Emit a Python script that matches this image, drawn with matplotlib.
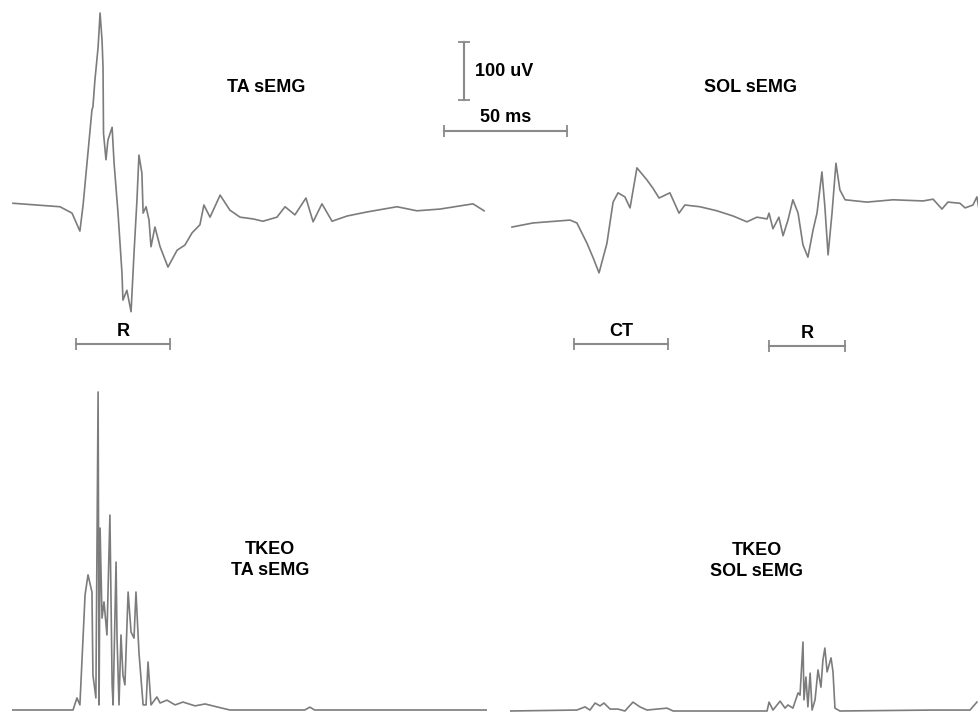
#!/usr/bin/env python
"""
Surface EMG responses (TA and SOL) and their TKEO envelopes.
"""
import numpy as np
import matplotlib.pyplot as plt

plt.rcParams['font.family'] = ['Liberation Sans', 'DejaVu Sans']

# Raw sEMG traces, time in ms, amplitude in uV
ta_t = [0.4, 19.5, 24.4, 27.6, 28.9, 32.5, 32.9, 33.7, 35.0, 35.8, 36.6, 37.0,
        37.2, 38.2, 39.0, 40.7, 41.5, 43.1, 44.7, 45.1, 46.7, 48.4, 49.6, 50.8,
        51.6, 52.8, 53.3, 54.5, 55.7, 56.5, 58.1, 60.2, 63.4, 67.1, 70.3, 73.2,
        76.4, 78.0, 80.5, 84.6, 88.6, 92.7, 98.0, 102.0, 107.7, 111.0, 115.0,
        119.5, 122.4, 126.0, 130.1, 136.2, 144.3, 156.5, 164.6, 174.0, 187.4,
        191.9]
ta_v = [3, -3, -14, -45, 0, 164, 169, 215, 272, 331, 284, 238,
        124, 78, 112, 134, 72, -14, -117, -164, -147, -184, -83, 9,
        86, 55, -14, -3, -26, -72, -38, -72, -107, -78, -69, -48,
        -34, 0, -21, 17, -9, -21, -24, -28, -21, -3, -17,
        12, -29, 2, -28, -19, -12, -3, -10, -7, 2,
        -10]

sol_t = [0.8, 9.3, 24.4, 27.2, 31.3, 33.7, 36.2, 39.4, 41.9, 43.9, 46.7, 48.8,
         51.6, 55.7, 58.1, 60.6, 65.0, 68.7, 71.1, 77.2, 84.1, 90.7, 96.3,
         100.4, 104.5, 105.3, 106.9, 109.3, 111.0, 113.0, 115.0, 117.1, 119.1,
         121.1, 123.2, 124.8, 126.8, 128.0, 129.3, 130.9, 132.5, 134.1, 136.2,
         145.1, 155.7, 167.9, 172.0, 175.6, 178.0, 182.9, 185.0, 188.2, 189.8,
         190.7]
sol_v = [-38, -31, -26, -31, -66, -90, -117, -66, 5, 21, 14, -5,
         64, 43, 29, 12, 21, -14, 0, -3, -10, -19, -29,
         -21, -24, -14, -41, -21, -53, -26, 9, -14, -69,
         -90, -43, -14, 57, -3, -86, -14, 72, 26, 9,
         5, 9, 7, 10, -7, 5, 3, -5, 0, 14,
         -9]

# TKEO envelopes, normalised to the largest TA value (%)
tkeo_ta_t = [0, 24.8, 26.4, 27.6, 29.7, 30.9, 32.5, 32.9, 34.1, 35.0, 35.4, 35.8,
             36.6, 37.4, 38.6, 39.8, 40.7, 41.1, 42.3, 42.7, 43.5, 44.3, 45.1,
             45.9, 47.2, 48.4, 49.6, 50.4, 51.6, 53.3, 54.5, 55.3, 56.5, 58.9,
             60.2, 63.0, 66.3, 69.5, 74.4, 78.5, 83.7, 88.6, 119.0, 121.1,
             123.0, 193.0]
tkeo_ta_v = [0, 0, 3.8, 1.6, 36.2, 42.5, 37.1, 11, 3.8, 100, 1.6, 57.2,
             28.9, 34, 23.6, 61.3, 7.9, 1.6, 46.5, 22.6, 1.6, 23.6, 11,
             7.9, 37.1, 24.5, 22.6, 37.1, 18.2, 1.6, 1.6, 15.1, 1.6, 4.1,
             2.2, 3.1, 1.6, 2.5, 1.3, 1.9, 0.9, 0, 0, 0.9,
             0, 0]

tkeo_sol_t = [0, 27.2, 30.5, 32.5, 34.6, 36.6, 38.2, 40.7, 43.9, 46.7, 50.0,
              52.8, 55.7, 63.8, 66.3, 104.5, 105.3, 106.9, 109.8, 111.8, 113.0,
              115.0, 117.1, 117.9, 119.1, 119.5, 120.3, 121.1, 122.0, 122.8,
              124.0, 125.2, 126.4, 127.2, 128.0, 128.9, 130.5, 131.3, 132.1,
              134.1, 172.0, 187.0, 189.8]
tkeo_sol_v = [0, 0.3, 1.3, 0.3, 2.5, 1.6, 2.5, 0.6, 0.6, 0, 2.8,
              1.3, 0.3, 0.9, 0, 0, 2.8, 0.3, 3.1, 0.9, 1.9,
              0.9, 5.7, 5.0, 21.7, 3.5, 10.7, 1.3, 11.9, 0.3,
              3.5, 12.9, 7.5, 16.0, 19.8, 12.3, 16.7, 12.3, 0.9,
              0, 0.3, 0.3, 2.8]

# Response windows (ms) marked under the raw traces
ta_windows = {'R': (26.0, 64.2)}
sol_windows = {'CT': (26.0, 64.2), 'R': (105.3, 136.2)}

# Calibration bars
scale_uv = 100
scale_ms = 50

trace_color = '#7c7c7c'
bar_color = '#8a8a8a'
fs = 13

W, H = 979, 713
fig = plt.figure(figsize=(W / 100, H / 100), dpi=100)


def add_axes(x0, x1, y0, y1):
    # panel placed by its pixel box in the figure
    ax = fig.add_axes([x0 / W, 1 - y1 / H, (x1 - x0) / W, (y1 - y0) / H])
    ax.axis('off')
    return ax


px_ms = 2.46   # pixels per ms
px_uv = 0.58   # pixels per uV
px_pct = 3.18  # pixels per TKEO %

# Raw sEMG panels
ax_ta = add_axes(12, 487, 0, 360)
ax_ta.set_xlim(0, 475 / px_ms)
ax_ta.set_ylim(-155 / px_uv, 205 / px_uv)
ax_ta.plot(ta_t, ta_v, color=trace_color, lw=1.2)
ax_ta.text(103.3, 202, 'TA sEMG', ha='center', va='center',
           fontsize=fs, fontweight='bold')

ax_sol = add_axes(510, 979, 0, 360)
ax_sol.set_xlim(0, 469 / px_ms)
ax_sol.set_ylim(-155 / px_uv, 205 / px_uv)
ax_sol.plot(sol_t, sol_v, color=trace_color, lw=1.2)
ax_sol.text(97.6, 202, 'SOL sEMG', ha='center', va='center',
            fontsize=fs, fontweight='bold')

# Window bars with labels
for ax, windows, ys in [(ax_ta, ta_windows, [-240]),
                        (ax_sol, sol_windows, [-240, -243])]:
    for (name, (a, b)), y in zip(windows.items(), ys * 2):
        ax.plot([a, b], [y, y], color=bar_color, lw=1.5, clip_on=False)
        ax.plot([a, b], [y, y], ls='none', marker='|', ms=8, mew=1.3,
                color=bar_color, clip_on=False)
        ax.text((a + b) / 2, y + 7, name, ha='center', va='bottom',
                fontsize=fs, fontweight='bold')

# Calibration bars (drawn in TA panel units)
x_v = 183.7
ax_ta.plot([x_v, x_v], [181, 181 + scale_uv], color=bar_color, lw=1.5,
           clip_on=False)
ax_ta.plot([x_v, x_v], [181, 181 + scale_uv], ls='none', marker='_', ms=9,
           mew=1.3, color=bar_color, clip_on=False)
ax_ta.text(188.2, 231, '%d uV' % scale_uv, ha='left', va='center',
           fontsize=fs, fontweight='bold')

x_h = 175.6
ax_ta.plot([x_h, x_h + scale_ms], [127.6, 127.6], color=bar_color, lw=1.5,
           clip_on=False)
ax_ta.plot([x_h, x_h + scale_ms], [127.6, 127.6], ls='none', marker='|',
           ms=8, mew=1.3, color=bar_color, clip_on=False)
ax_ta.text(x_h + scale_ms / 2, 136, '%d ms' % scale_ms, ha='center',
           va='bottom', fontsize=fs, fontweight='bold')

# TKEO panels
ax_kta = add_axes(12, 487, 380, 713)
ax_kta.set_xlim(0, 475 / px_ms)
ax_kta.set_ylim(-3 / px_pct, 330 / px_pct)
ax_kta.plot(tkeo_ta_t, tkeo_ta_v, color=trace_color, lw=1.2)
ax_kta.text(104.9, 47.2, 'TKEO\nTA sEMG', ha='center', va='center',
            fontsize=fs, fontweight='bold', linespacing=1.35)

ax_ksol = add_axes(510, 979, 380, 713)
ax_ksol.set_xlim(0, 469 / px_ms)
ax_ksol.set_ylim(-2 / px_pct, 331 / px_pct)
ax_ksol.plot(tkeo_sol_t, tkeo_sol_v, color=trace_color, lw=1.2)
ax_ksol.text(100.4, 47.2, 'TKEO\nSOL sEMG', ha='center', va='center',
             fontsize=fs, fontweight='bold', linespacing=1.35)

plt.savefig('out.png', dpi=100)
